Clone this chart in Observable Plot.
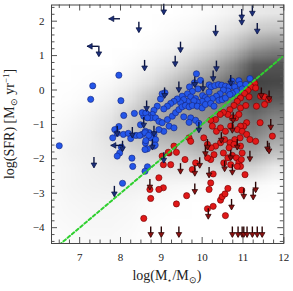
<!DOCTYPE html>
<html><head><meta charset="utf-8">
<script src="https://cdn.jsdelivr.net/npm/d3@7"></script>
<script src="https://cdn.jsdelivr.net/npm/@observablehq/plot@0.6"></script>
<style>body{margin:0;background:#fff}</style>
</head><body><div id="chart"></div>
<script>
// ---- data ----
const xTicks = [7, 8, 9, 10, 11, 12];
const yTicks = [-4, -3, -2, -1, 0, 1, 2];

// background galaxy density (darkness 0..1), rows top (y=2.5) to bottom (y=-4.5), 0.5 dex cells, x 6.0..12.0
const densityRows = [
  [0, 0, 0, 0, 0, 0, 0, 0.01, 0.03, 0.06, 0.10, 0.12],
  [0, 0, 0, 0, 0, 0, 0.02, 0.04, 0.08, 0.15, 0.25, 0.28],
  [0, 0, 0, 0, 0, 0.02, 0.05, 0.10, 0.18, 0.30, 0.48, 0.55],
  [0, 0, 0, 0, 0.03, 0.07, 0.14, 0.25, 0.38, 0.55, 0.80, 0.82],
  [0, 0, 0.01, 0.03, 0.07, 0.15, 0.28, 0.42, 0.55, 0.72, 0.90, 0.88],
  [0, 0.01, 0.03, 0.07, 0.15, 0.30, 0.42, 0.52, 0.60, 0.72, 0.85, 0.78],
  [0.01, 0.03, 0.06, 0.12, 0.25, 0.38, 0.45, 0.50, 0.55, 0.62, 0.70, 0.60],
  [0.02, 0.05, 0.08, 0.15, 0.28, 0.35, 0.40, 0.42, 0.48, 0.55, 0.60, 0.48],
  [0.03, 0.06, 0.08, 0.12, 0.20, 0.25, 0.27, 0.32, 0.40, 0.45, 0.45, 0.32],
  [0.03, 0.05, 0.07, 0.09, 0.10, 0.12, 0.13, 0.15, 0.18, 0.22, 0.20, 0.10],
  [0.03, 0.05, 0.06, 0.07, 0.07, 0.06, 0.04, 0.03, 0.03, 0.04, 0.03, 0.01],
  [0.02, 0.04, 0.05, 0.05, 0.04, 0.02, 0.01, 0, 0, 0, 0, 0],
  [0.02, 0.03, 0.04, 0.04, 0.03, 0.01, 0, 0, 0, 0, 0, 0],
  [0.01, 0.02, 0.03, 0.03, 0.02, 0, 0, 0, 0, 0, 0, 0]
];
const densityX = [6.0, 12.0];
const densityY = [2.5, -4.5];

// star-forming (blue) galaxies
const blueX = [9.86, 9.96, 9.81, 9.69, 9.90, 9.76, 9.64, 9.51, 9.72, 9.84,
  10.01, 10.08, 10.17, 10.22, 10.31, 10.40, 10.48, 10.57, 10.66, 10.73,
  10.80, 10.90, 10.93, 11.17, 11.07, 10.98, 10.84, 10.74, 10.63, 10.52,
  10.44, 10.35, 10.25, 10.17, 10.13, 10.00, 9.88, 9.80, 9.64, 9.55,
  9.47, 9.39, 9.31, 9.23, 9.15, 9.06, 8.98, 9.02, 9.09, 8.90,
  8.82, 8.78, 8.74, 8.66, 8.57, 8.53, 8.86, 8.94, 9.02, 9.15,
  9.27, 9.35, 9.43, 9.51, 9.59, 9.68, 9.76, 9.88, 10.00, 10.08,
  10.21, 10.29, 10.41, 10.49, 10.57, 10.68, 9.55, 9.72, 9.84, 9.92,
  9.68, 9.19, 9.31, 9.06, 8.94, 8.82, 8.70, 8.61, 8.53, 8.74,
  8.86, 8.61, 8.82, 8.66,
  7.96, 7.32, 7.27, 8.01, 8.08, 8.34, 6.50, 8.49, 8.62, 8.66,
  7.96, 7.86, 7.92, 7.81, 8.07, 8.19, 8.25, 8.38, 8.47, 8.60,
  8.69, 8.62, 8.02, 7.98, 7.92, 8.28, 8.60, 8.30, 8.66, 8.60, 8.05, 8.85];
const blueY = [0.47, 0.28, 0.21, 0.09, 0.03, -0.04, -0.11, -0.18, -0.20, -0.25,
  -0.16, -0.22, 0.15, 0.09, 0.13, 0.16, 0.14, 0.11, 0.09, 0.26,
  0.09, 0.27, 0.16, 0.33, 0.16, 0.03, -0.04, -0.10, -0.03, 0.00,
  -0.11, -0.18, -0.25, -0.06, -0.28, -0.33, -0.35, -0.31, -0.33, -0.28,
  -0.37, -0.26, -0.33, -0.39, -0.47, -0.55, -0.26, -0.11, -0.08, -0.47,
  -0.59, -0.71, -0.81, -0.71, -0.76, -0.66, -0.81, -0.91, -0.95, -0.86,
  -0.76, -0.66, -0.57, -0.49, -0.45, -0.49, -0.45, -0.47, -0.52, -0.42,
  -0.39, -0.47, -0.30, -0.28, -0.23, -0.13, -0.78, -0.81, -0.88, -0.97,
  -0.94, -1.05, -1.10, -1.20, -1.15, -1.29, -1.24, -1.20, -1.29, -1.39,
  -1.44, -1.54, -1.63, -1.71,
  0.43, 0.12, -0.27, -0.31, -0.74, -0.68, -1.62, -1.01, -0.67, -0.81,
  -1.06, -1.15, -1.26, -1.39, -1.29, -1.26, -1.41, -1.32, -1.32, -1.24,
  -1.32, -1.47, -1.66, -1.83, -1.92, -1.98, -1.73, -2.22, -2.23, -2.36, -2.71, -1.60];

// quiescent (red) galaxies
const redX = [11.29, 11.20, 11.12, 11.31, 11.04, 11.15, 10.94, 10.86, 10.78, 10.68,
  10.94, 11.07, 11.33, 11.43, 11.53, 11.63, 11.53, 11.72, 11.42, 11.09,
  11.02, 10.94, 10.82, 10.90, 10.74, 10.63, 10.52, 10.44, 10.33, 10.21,
  10.25, 10.35, 10.45, 10.57, 10.70, 10.86, 10.98, 11.09, 11.17, 11.31,
  10.93, 10.80, 10.68, 10.55, 10.45, 10.33, 10.22, 10.13, 10.04, 9.68,
  9.72, 9.31,
  10.66, 10.78, 10.94, 10.74, 10.84, 10.90, 10.96, 10.98, 10.94, 10.86,
  10.70, 10.53, 10.63, 10.52, 10.29, 10.21, 10.13, 9.84, 9.76, 9.58,
  9.23, 9.19, 9.05, 9.02, 8.94, 9.05, 8.72, 8.74, 8.94, 9.37,
  9.62, 10.17, 10.21, 10.27, 10.13, 10.27, 10.45, 10.49, 10.56, 10.63,
  10.57, 10.97, 11.05, 8.57, 9.17, 9.37];
const redY = [0.19, 0.09, -0.01, 0.06, -0.10, -0.20, -0.23, -0.33, -0.45, -0.57,
  -0.52, -0.45, -0.47, -0.18, -0.20, -0.28, -0.42, -1.34, -0.95, -0.95,
  -1.05, -1.05, -0.81, -0.71, -0.81, -0.71, -0.65, -0.71, -0.86, -0.88,
  -1.05, -1.20, -1.10, -1.20, -1.05, -1.15, -1.20, -1.29, -1.44, -1.49,
  -1.39, -1.44, -1.53, -1.44, -1.53, -1.63, -1.68, -1.58, -1.39, -1.39,
  -1.49, -1.63,
  -1.68, -1.58, -1.63, -1.90, -1.97, -2.10, -2.02, -1.83, -2.22, -2.22,
  -2.17, -2.12, -1.97, -1.83, -1.88, -2.02, -1.97, -2.12, -2.31, -2.02,
  -2.17, -1.83, -2.17, -1.92, -2.55, -2.84, -2.89, -3.15, -2.89, -3.31,
  -3.07, -2.89, -2.70, -2.44, -3.45, -3.38, -3.20, -3.10, -3.02, -2.86,
  -3.65, -2.91, -2.46, -3.73, -1.81, -1.81];

// SFR upper limits (downward arrows), value = arrow start
const blueLimX = [8.45, 8.59, 7.47, 9.06, 10.97, 10.97, 11.23, 10.33, 11.35, 9.47,
  9.34, 10.35, 10.27, 9.82, 10.02, 9.43, 10.70, 9.08, 8.64, 8.57,
  8.82, 8.78, 9.92, 8.05, 7.35, 7.85, 9.06, 8.29, 7.92];
const blueLimY = [1.97, 0.86, 1.27, 2.49, 2.34, 2.19, 2.45, 1.87, 1.93, 1.39,
  0.98, 0.84, 0.55, 0.38, 0.26, 0.23, 0.42, 0.06, -0.32, -0.80,
  -1.05, -1.44, -0.94, -1.49, -1.96, -2.80, -1.82, -1.09, -1.05];
const redLimX = [11.45, 11.64, 11.68, 10.76, 10.47, 10.74, 10.13, 10.86, 11.60, 11.64,
  10.08, 11.17, 10.70, 9.94, 9.47, 9.82, 10.55, 10.74, 10.17, 9.82,
  8.72, 11.02, 11.25, 11.31, 10.72, 10.15,
  8.74, 9.00, 9.43, 10.74, 10.88, 10.98, 11.02, 11.10, 11.23, 11.35, 11.47];
const redLimY = [0.06, -0.03, -0.86, -0.66, -1.24, -0.95, -1.44, -1.44, -1.49, -1.55,
  -1.63, -1.78, -1.75, -1.97, -2.14, -2.20, -2.07, -2.17, -2.25, -2.73,
  -2.60, -2.87, -2.89, -2.68, -3.18, -3.45,
  -3.98, -3.98, -3.98, -3.98, -3.98, -3.98, -3.98, -3.98, -3.98, -3.98, -3.98];
// stellar-mass upper limits (leftward arrows)
const massLimX = [8.00, 7.47, 8.05];
const massLimY = [2.07, 1.27, -1.61];

// separation line
const cutX = [6.5, 12.0];
const cutY = [-4.5, 1.0];

// ---- chart ----
const xDom = [6.31, 12], yDom = [-4.46, 2.47];
const W = 293, H = 291, mL = 51, mR = 9.7, mT = 4.5, mB = 48;
const ux = (xDom[1] - xDom[0]) / (W - mL - mR); // data per px
const uy = (yDom[1] - yDom[0]) / (H - mT - mB);
const LEN = 0.3, LLEN = 0.28;

const blue = blueX.map((x, i) => ({x, y: blueY[i]}));
const red = redX.map((x, i) => ({x, y: redY[i]}));
const bLim = blueLimX.map((x, i) => ({x, y: blueLimY[i]}));
const rLim = redLimX.map((x, i) => ({x, y: redLimY[i]}));
const mLim = massLimX.map((x, i) => ({x, y: massLimY[i]}));
const cut = cutX.map((x, i) => ({x, y: cutY[i]}));

const xMinor = d3.range(6.5, 12.001, 0.25).filter(v => Math.abs(v - Math.round(v)) > 1e-6);
const yMinor = d3.range(-4.4, 2.401, 0.2).filter(v => Math.abs(v - Math.round(v)) > 1e-6);
const fmt = d => d < 0 ? "\u2212" + Math.abs(d) : String(d);
const tickCol = "#555";

function downArrows(data, stroke, head) {
  return [
    Plot.ruleX(data, {x: "x", y1: "y", y2: d => d.y - LEN, stroke, strokeWidth: 1.4}),
    Plot.dot(data, {x: "x", y: d => d.y - LEN, symbol: "triangle", r: 2.1, rotate: 180, dy: -3.1, fill: head, stroke, strokeWidth: 0.7})
  ];
}

const chart = Plot.plot({
  width: W, height: H,
  marginLeft: mL, marginRight: mR, marginTop: mT, marginBottom: mB,
  x: {domain: xDom},
  y: {domain: yDom},
  color: {type: "linear", domain: [0, 1], range: ["#ffffff", "#2e2e2e"]},
  style: {fontFamily: "Liberation Serif", background: "white"},
  marks: [
    Plot.raster(densityRows.flat(), {width: 12, height: 14, x1: densityX[0], x2: densityX[1], y1: densityY[0], y2: densityY[1], fill: d => d, imageRendering: "auto", clip: true}),
    Plot.dot(blue, {x: "x", y: "y", r: 3.1, fill: "#2456e8", stroke: "#14237a", strokeWidth: 0.6}),
    Plot.dot(red, {x: "x", y: "y", r: 3.1, fill: "#e01818", stroke: "#6a0000", strokeWidth: 0.6}),
    Plot.line(cut, {x: "x", y: "y", stroke: "#2fd02f", strokeWidth: 2, strokeDasharray: "3,2.5", clip: true}),
    ...downArrows(rLim, "#2a0606", "#8a1010"),
    ...downArrows(bLim, "#0a1440", "#1c2f7a"),
    Plot.ruleY(mLim, {y: "y", x1: "x", x2: d => d.x - LLEN, stroke: "#0a1440", strokeWidth: 1.4}),
    Plot.dot(mLim, {x: d => d.x - LLEN, y: "y", symbol: "triangle", r: 2.1, rotate: -90, dx: 3.1, fill: "#1c2f7a", stroke: "#0a1440", strokeWidth: 0.7}),
    // ticks (inward, all four sides)
    Plot.ruleX(xTicks, {x: d => d, y1: yDom[0], y2: yDom[0] + 6 * uy, stroke: tickCol}),
    Plot.ruleX(xTicks, {x: d => d, y1: yDom[1], y2: yDom[1] - 6 * uy, stroke: tickCol}),
    Plot.ruleX(xMinor, {x: d => d, y1: yDom[0], y2: yDom[0] + 3.5 * uy, stroke: tickCol}),
    Plot.ruleX(xMinor, {x: d => d, y1: yDom[1], y2: yDom[1] - 3.5 * uy, stroke: tickCol}),
    Plot.ruleY(yTicks, {y: d => d, x1: xDom[0], x2: xDom[0] + 6 * ux, stroke: tickCol}),
    Plot.ruleY(yTicks, {y: d => d, x1: xDom[1], x2: xDom[1] - 6 * ux, stroke: tickCol}),
    Plot.ruleY(yMinor, {y: d => d, x1: xDom[0], x2: xDom[0] + 3.5 * ux, stroke: tickCol}),
    Plot.ruleY(yMinor, {y: d => d, x1: xDom[1], x2: xDom[1] - 3.5 * ux, stroke: tickCol}),
    Plot.frame({stroke: "#444", strokeWidth: 1}),
    Plot.axisX({ticks: xTicks, tickSize: 0, tickPadding: 10, tickFormat: fmt, fontSize: 11, label: null, fill: "#222"}),
    Plot.axisY({ticks: yTicks, tickSize: 0, tickPadding: 7, tickFormat: fmt, fontSize: 11, label: null, fill: "#222"})
  ]
});

document.getElementById("chart").appendChild(chart);

// axis titles with sub/superscripts
const svg = d3.select(chart);
const xt = svg.append("text").attr("x", 167).attr("y", 280).attr("text-anchor", "middle")
  .attr("font-size", 14).attr("fill", "#222").attr("font-family", "Liberation Serif");
xt.append("tspan").text("log(M");
xt.append("tspan").attr("font-size", 8).attr("dy", 3).text("\u22C6");
xt.append("tspan").attr("dy", -3).text("/M");
xt.append("tspan").attr("font-size", 9).attr("dy", 3).text("\u2299");
xt.append("tspan").attr("dy", -3).text(")");

const yt = svg.append("text").attr("transform", "translate(14,124) rotate(-90)").attr("text-anchor", "middle")
  .attr("font-size", 14).attr("fill", "#222").attr("font-family", "Liberation Serif");
yt.append("tspan").text("log(SFR) [M");
yt.append("tspan").attr("font-size", 9).attr("dy", 3).text("\u2299");
yt.append("tspan").attr("dy", -3).text(" yr");
yt.append("tspan").attr("font-size", 9).attr("dy", -5).text("\u22121");
yt.append("tspan").attr("dy", 5).text("]");
</script>
</body></html>
